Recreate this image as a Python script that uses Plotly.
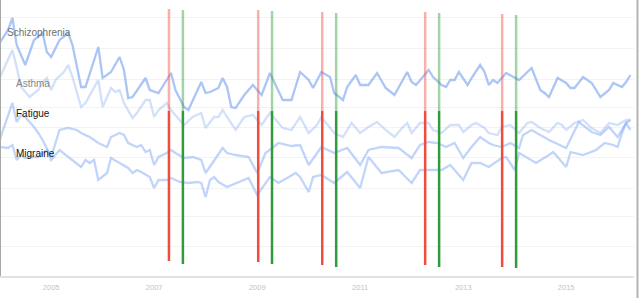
import pandas as pd
import plotly.graph_objects as go

# ---- data (search interest, months counted from Jan 2004) ----
schiz_months = [0, 2, 3, 4, 6, 8, 10, 11, 12, 14, 16, 17, 19, 20, 23, 24, 26, 28, 29, 30, 31, 34, 35, 37,
                40, 41, 43, 44, 47, 48, 49, 51, 52, 53, 54, 55, 57, 59, 61, 63, 66, 68, 70, 72, 73, 75,
                77, 78, 80, 81, 83, 84, 86, 88, 90, 92, 95, 96, 97, 100, 101, 103, 104, 105, 106, 107,
                109, 110, 112, 113, 114, 115, 116, 118, 121, 124, 126, 127, 128, 129, 130, 132, 133,
                134, 136, 138, 140, 142, 143, 145, 146, 147]
schiz_values = [87.5, 94, 100, 86.5, 76.5, 89, 92.5, 83, 80.5, 89, 92.5, 86.5, 65.5, 65.5, 85.5, 70, 73,
                80.5, 74, 60, 60.5, 70, 64, 62.5, 72.5, 64, 55.5, 54, 68, 62.5, 63, 65, 70, 65.5, 55.5,
                55, 61.5, 66.5, 61.5, 72.5, 59, 59, 73, 69, 65, 73, 70.5, 62.5, 59, 65.5, 71.5, 66.5,
                66.5, 72.5, 65, 61.5, 73, 68, 66.5, 74, 70.5, 66.5, 65.5, 69, 69, 73, 66.5, 70, 76.5,
                73, 66.5, 69, 67.5, 72.5, 69, 75, 64, 62.5, 60.5, 65, 70, 67.5, 65, 65, 70.5, 67.5,
                60.5, 64, 67.5, 65.5, 68, 71.5]

asthma_months = [0, 3, 4, 5, 7, 9, 10, 11, 12, 13, 15, 16, 17, 19, 20, 23, 24, 25, 26, 27, 28, 29, 31,
                 32, 34, 35, 36, 37, 39, 40, 43, 45, 47, 48, 50, 51, 52, 53, 55, 57, 59, 61, 63, 66, 68,
                 70, 72, 74, 75, 78, 80, 82, 84, 86, 88, 90, 92, 94, 95, 96, 98, 100, 101, 103, 105,
                 107, 108, 110, 111, 113, 114, 116, 117, 119, 121, 123, 124, 126, 128, 130, 131, 132,
                 134, 136, 138, 140, 142, 144, 146, 147]
asthma_values = [70, 84, 75.5, 65.5, 60.5, 64, 67.5, 70, 64, 69, 73, 76.5, 70.5, 55.5, 57.5, 69, 55.5,
                 60.5, 65, 63, 64, 57.5, 50, 52.5, 59, 59, 50.5, 54, 57.5, 54, 46.5, 50.5, 52.5, 45,
                 50.5, 50.5, 54, 50.5, 44, 50.5, 51.5, 46.5, 52.5, 45, 44, 50.5, 42.5, 46.5, 50.5,
                 42.5, 40.5, 47.5, 42.5, 45.5, 48, 44, 40.5, 45.5, 47.5, 42.5, 47.5, 47.5, 44, 42.5,
                 46.5, 46.5, 43, 46.5, 47.5, 45, 42.5, 41.5, 45.5, 46.5, 42.5, 47.5, 48, 45, 43, 47.5,
                 46.5, 44, 47.5, 49, 45, 42.5, 47.5, 46.5, 49, 49]

fatigue_months = [0, 3, 4, 5, 6, 7, 8, 9, 10, 12, 14, 16, 18, 19, 21, 23, 25, 26, 28, 29, 30, 32, 33,
                  34, 35, 36, 37, 39, 40, 41, 43, 45, 47, 48, 50, 52, 53, 55, 58, 60, 62, 65, 68, 70,
                  72, 75, 78, 81, 84, 86, 89, 93, 96, 98, 100, 102, 104, 106, 108, 110, 112, 114, 115,
                  117, 119, 121, 122, 124, 128, 132, 135, 138, 140, 142, 144, 146, 147]
fatigue_values = [39, 57.5, 48, 51.5, 50.5, 48, 45.5, 42.5, 39, 30.5, 44, 45, 44, 42.5, 40.5, 37.5,
                  35.5, 40.5, 42.5, 41.5, 37.5, 35.5, 36.5, 33, 34, 26.5, 30.5, 32.5, 34, 32.5, 30,
                  30.5, 29, 22.5, 29, 35, 32.5, 31.5, 30.5, 22.5, 32.5, 37.5, 36, 36.5, 26.5, 35.5,
                  32.5, 35, 26.5, 34, 35.5, 35, 30, 36.5, 38, 37.5, 35.5, 37.5, 30, 35.5, 40.5, 37.5,
                  36.5, 35.5, 37.5, 35, 41.5, 44, 39, 35, 48, 43, 41.5, 45.5, 40.5, 47.5, 44]

migraine_months = [0, 2, 3, 4, 5, 6, 8, 9, 11, 12, 14, 16, 17, 19, 20, 21, 22, 23, 25, 26, 28, 30, 31,
                   32, 33, 35, 36, 37, 39, 40, 42, 44, 46, 47, 48, 49, 50, 51, 53, 56, 58, 60, 63, 65,
                   69, 70, 72, 73, 75, 78, 81, 84, 86, 89, 93, 96, 98, 100, 103, 105, 108, 110, 112,
                   114, 117, 118, 120, 121, 125, 128, 129, 130, 132, 133, 136, 139, 141, 143, 144, 145,
                   146, 147]
migraine_values = [35.5, 35, 36.5, 29, 31.5, 30, 30.5, 30.5, 34, 29, 34, 30.5, 29, 25.5, 29, 27.5, 29,
                   19, 22.5, 30, 27.5, 25, 22.5, 24, 23, 20.5, 15, 19, 19, 20, 18, 17.5, 18, 17.5,
                   10.5, 19, 20.5, 18, 15.5, 18, 20, 11.5, 20.5, 17.5, 22.5, 20.5, 13, 20.5, 21.5,
                   17.5, 23, 15, 30.5, 22.5, 24, 17.5, 24, 24, 24, 26.5, 19, 27.5, 27.5, 25.5, 30,
                   30.5, 24, 32.5, 27.5, 31.5, 33, 30.5, 25.5, 33, 31.5, 34, 37.5, 36.5, 35.5, 42.5,
                   47.5, 49]

series_names = ["Schizophrenia", "Asthma", "Fatigue", "Migraine"]

# event markers: red = start, green = end
red_events = ["2007-04-16", "2009-01-08", "2010-04-07", "2012-04-06", "2013-10-04"]
green_events = ["2007-07-24", "2009-04-16", "2010-07-15", "2012-07-14", "2014-01-11"]

tick_years = ["2005", "2007", "2009", "2011", "2013", "2015"]

# ---- styling ----
start = pd.Timestamp("2004-01-01")


def to_dates(months):
    return [start + pd.DateOffset(months=m) for m in months]


series = [
    (schiz_months, schiz_values, "rgba(120,162,240,0.62)"),
    (asthma_months, asthma_values, "rgba(130,168,242,0.36)"),
    (fatigue_months, fatigue_values, "rgba(125,165,242,0.48)"),
    (migraine_months, migraine_values, "rgba(125,165,242,0.48)"),
]

fig = go.Figure()
for (months, vals, col), name in zip(series, series_names):
    fig.add_trace(go.Scatter(x=to_dates(months), y=vals, mode="lines", name=name,
                             line=dict(color=col, width=2.3), hoverinfo="skip"))

PLOT_H = 276.0


def py(pix):
    return 1 - pix / PLOT_H


red_tops = [9, 10, 12, 12, 14]
red_bottoms = [261, 262, 265, 265, 267]
green_tops = [10, 11, 13, 13, 15]
green_bottoms = [264, 264, 267, 267, 268]
split = 111

shapes = []
for dates, tops, bots, light, dark in [
    (red_events, red_tops, red_bottoms, "rgba(244,80,66,0.45)", "#f24a3c"),
    (green_events, green_tops, green_bottoms, "rgba(50,160,60,0.45)", "#2f9b3c"),
]:
    for d, t, b in zip(dates, tops, bots):
        shapes.append(dict(type="line", xref="x", yref="paper", x0=d, x1=d, y0=py(t), y1=py(split),
                           line=dict(color=light, width=2.5)))
        shapes.append(dict(type="line", xref="x", yref="paper", x0=d, x1=d, y0=py(split), y1=py(b),
                           line=dict(color=dark, width=2.5)))

# right border of frame
shapes.append(dict(type="line", xref="paper", yref="paper", x0=1.0055, x1=1.0055, y0=-22 / PLOT_H, y1=1,
                   line=dict(color="#b4b4b4", width=2)))

labels = [
    ("Schizophrenia", 0.006, py(33), "#707070"),
    ("Asthma", 0.020, py(83), "#858585"),
    ("Fatigue", 0.020, py(113), "#151515"),
    ("Migraine", 0.020, py(153), "#151515"),
]
annotations = [dict(text=t, x=x, y=y, xref="paper", yref="paper", xanchor="left", yanchor="middle",
                    showarrow=False, font=dict(family="Liberation Sans", size=10, color=c))
               for t, x, y, c in labels]

grid_levels = [100.5, 85, 69.5, 55.5, 45.5, 30.5, 15, 1, -14]

fig.update_layout(
    width=639, height=298,
    margin=dict(l=1, r=5, t=0, b=22),
    paper_bgcolor="white", plot_bgcolor="white",
    showlegend=False,
    shapes=shapes,
    annotations=annotations,
    xaxis=dict(type="date", range=["2004-01-11", "2016-04-26"],
               tickvals=[f"{y}-01-01" for y in tick_years], ticktext=tick_years,
               tickfont=dict(family="Liberation Sans", size=7.5, color="#c4c4c4"),
               showgrid=False, zeroline=False, showline=True, linecolor="#e2e2e2", linewidth=2,
               ticks="outside", ticklen=3, tickcolor="rgba(0,0,0,0)"),
    yaxis=dict(range=[-29, 109], tickvals=grid_levels, showticklabels=False,
               gridcolor="#f3f3f3", gridwidth=1, zeroline=False,
               showline=True, linecolor="#a8a8a8", linewidth=2),
)

fig.write_html("out.html")
